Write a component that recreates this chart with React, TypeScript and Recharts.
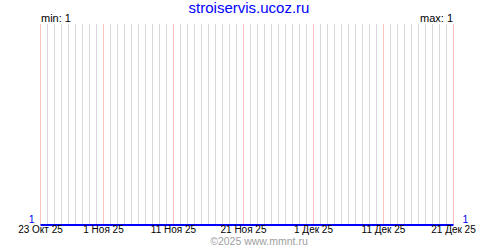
import { LineChart, Line, XAxis, YAxis, CartesianGrid, ReferenceLine } from 'recharts'

// one entry per day, 23 Oct 2025 .. 21 Dec 2025
const days = [
  '23.10', '24.10', '25.10', '26.10', '27.10', '28.10', '29.10', '30.10', '31.10',
  '1.11', '2.11', '3.11', '4.11', '5.11', '6.11', '7.11', '8.11', '9.11', '10.11',
  '11.11', '12.11', '13.11', '14.11', '15.11', '16.11', '17.11', '18.11', '19.11', '20.11',
  '21.11', '22.11', '23.11', '24.11', '25.11', '26.11', '27.11', '28.11', '29.11', '30.11',
  '1.12', '2.12', '3.12', '4.12', '5.12', '6.12', '7.12', '8.12', '9.12', '10.12',
  '11.12', '12.12', '13.12', '14.12', '15.12', '16.12', '17.12', '18.12', '19.12', '20.12',
  '21.12',
]

const visits = [
  1, 1, 1, 1, 1, 1, 1, 1, 1,
  1, 1, 1, 1, 1, 1, 1, 1, 1, 1,
  1, 1, 1, 1, 1, 1, 1, 1, 1, 1,
  1, 1, 1, 1, 1, 1, 1, 1, 1, 1,
  1, 1, 1, 1, 1, 1, 1, 1, 1, 1,
  1, 1, 1, 1, 1, 1, 1, 1, 1, 1,
  1,
]

const tickDays = ['23.10', '1.11', '11.11', '21.11', '1.12', '11.12', '21.12']
const tickLabels = ['23 Окт 25', '1 Ноя 25', '11 Ноя 25', '21 Ноя 25', '1 Дек 25', '11 Дек 25', '21 Дек 25']

const data = days.map((day, i) => ({ day, v: visits[i] }))

const FONT = '"Liberation Sans", Arial, sans-serif'

const DateTick = (props: any) => {
  const { x, y, payload } = props
  const idx = tickDays.indexOf(payload.value)
  if (idx < 0) return null
  return (
    <text x={x} y={y} dy={0} textAnchor="middle" fontSize={10} fontFamily={FONT} fill="#000">
      {tickLabels[idx]}
    </text>
  )
}

const LeftTick = (props: any) => (
  <text x={props.x + 2} y={props.y} dy={-2} textAnchor="end" fontSize={10.5} fontFamily={FONT} fill="#0000ff">
    {props.payload.value}
  </text>
)

const RightTick = (props: any) => (
  <text x={props.x + 1} y={props.y} dy={-2} textAnchor="start" fontSize={10.5} fontFamily={FONT} fill="#0000ff">
    {props.payload.value}
  </text>
)

export default function App() {
  return (
    <div style={{ position: 'absolute', left: 0, top: 0, width: 500, height: 250, background: '#fff' }}>
      <LineChart width={500} height={250} data={data} margin={{ top: 24, right: 0, left: 0, bottom: 0 }}>
        <CartesianGrid horizontal={false} stroke="#d8d8d8" strokeWidth={1} />
        <XAxis
          dataKey="day"
          interval={0}
          tick={<DateTick />}
          axisLine={false}
          tickLine={false}
          height={25}
        />
        <YAxis
          yAxisId="left"
          domain={[1, 2]}
          ticks={[1]}
          tick={<LeftTick />}
          axisLine={false}
          tickLine={false}
          width={40.5}
        />
        <YAxis
          yAxisId="right"
          orientation="right"
          domain={[1, 2]}
          ticks={[1]}
          tick={<RightTick />}
          axisLine={false}
          tickLine={false}
          width={46.5}
        />
        {tickDays.map(d => (
          <ReferenceLine key={d} x={d} yAxisId="left" stroke="#ffc0c0" strokeWidth={1} />
        ))}
        <Line
          yAxisId="right"
          type="linear"
          dataKey="v"
          stroke="none"
          dot={false}
          isAnimationActive={false}
        />
        <Line
          yAxisId="left"
          type="linear"
          dataKey="v"
          stroke="#0000ff"
          strokeWidth={2}
          dot={false}
          isAnimationActive={false}
        />
      </LineChart>
      <svg width={500} height={250} style={{ position: 'absolute', left: 0, top: 0, pointerEvents: 'none' }}>
        <text x={249} y={13} textAnchor="middle" fontSize={15} fontFamily={FONT} fill="#0000ff">
          stroiservis.ucoz.ru
        </text>
        <text x={41} y={22} textAnchor="start" fontSize={11} fontFamily={FONT} fill="#000">
          min: 1
        </text>
        <text x={453} y={22} textAnchor="end" fontSize={11} fontFamily={FONT} fill="#000">
          max: 1
        </text>
        <text x={259} y={244.5} textAnchor="middle" fontSize={10.5} fontFamily={FONT} fill="#a0a0a0">
          ©2025 www.mmnt.ru
        </text>
      </svg>
    </div>
  )
}
